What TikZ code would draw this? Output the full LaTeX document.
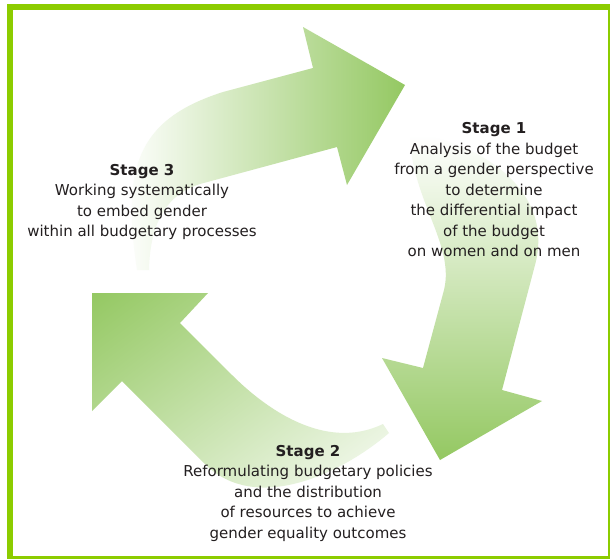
\documentclass[tikz,border=0pt]{standalone}
\usepackage{fontspec}
\setmainfont{DejaVu Sans}
\usetikzlibrary{calc,shadings}

\definecolor{framegreen}{RGB}{140,204,0}
\definecolor{arrowgreen}{RGB}{148,200,98}
\definecolor{textgrey}{RGB}{35,31,32}

\tikzset{
    stagetext/.style={align=center, inner sep=0pt, text=textgrey,
        font=\fontsize{15}{20.5}\selectfont},
}

\begin{document}
\begin{tikzpicture}[x=1pt, y=-1pt]
    %% Background
    \clip (0,0) rectangle (610,558);
    \fill[white] (0,0) rectangle (610,558);

    %% Frame
    \draw[framegreen, line width=6pt] (10,7) rectangle (611,559);

    %% Arrow stage 3 -> stage 1
    \shade[left color=white, right color=arrowgreen]
        (137,270) .. controls (122,170) and (135,120) .. (223,92)
        -- (313,68) -- (303,27) -- (405,85) -- (347,185) -- (337,147)
        -- (200,184) .. controls (165,195) and (150,225) .. (149,270) -- cycle;

    %% Arrow stage 1 -> stage 2
    \shade[top color=white, bottom color=arrowgreen]
        (410,137) .. controls (412,200) and (455,245) .. (444,290)
        -- (423,368) -- (382,358) -- (440,460) -- (542,401) -- (502,390)
        -- (535,265) .. controls (555,190) and (480,145) .. (422,135) -- cycle;

    %% Arrow stage 2 -> stage 3
    \shade[upper left=arrowgreen, upper right=arrowgreen!50!white,
           lower left=arrowgreen!50!white, lower right=white]
        (92,293) -- (208,293) -- (180,323)
        -- (232,375) .. controls (265,408) and (325,452) .. (383,424)
        -- (389,433) .. controls (340,475) and (255,514) .. (205,464)
        -- (122,381) -- (92,411) -- cycle;

    %% Notes
    \node[stagetext] (stageone) at (494,190)
        {\textbf{Stage 1}\\Analysis of the budget\\from a gender perspective\\to determine\\the differential impact\\of the budget\\on women and on men};
    \node[stagetext] (stagetwo) at (308,493)
        {\textbf{Stage 2}\\Reformulating budgetary policies\\and the distribution\\of resources to achieve\\gender equality outcomes};
    \node[stagetext] (stagethree) at (142,202)
        {\textbf{Stage 3}\\Working systematically\\to embed gender\\within all budgetary processes};
\end{tikzpicture}
\end{document}
